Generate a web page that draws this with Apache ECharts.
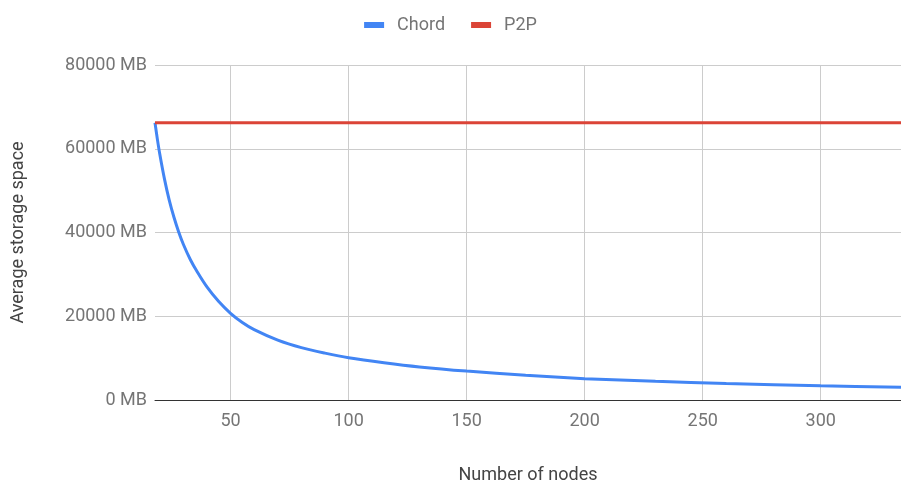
<!DOCTYPE html>
<html>
<head>
<meta charset="utf-8">
<script src="https://cdn.jsdelivr.net/npm/echarts@6/dist/echarts.min.js"></script>
<style>html,body{margin:0;padding:0;background:#fff}#c{width:901px;height:482px}</style>
</head>
<body>
<div id="c"></div>
<script>
var nodes = [18, 19, 20, 22, 24, 26, 28, 30, 33, 36, 40, 45, 50, 55, 60, 70, 80, 90, 100, 115, 130, 150, 175, 200, 230, 260, 300, 334];
var chord = [66200, 62300, 58800, 52800, 47800, 43700, 40200, 37200, 33500, 30500, 27000, 23500, 20700, 18500, 16800, 14300, 12500, 11200, 10100, 8900, 7900, 6900, 5900, 5100, 4450, 3950, 3400, 3050];
var p2pNodes = [18, 334];
var p2p = [66200, 66200];
var yTicks = [0, 20000, 40000, 60000, 80000];

var chart = echarts.init(document.getElementById('c'));
var font = 'Roboto';
chart.setOption({
  animation: false,
  textStyle: { fontFamily: font },
  legend: {
    top: 11, left: 'center', itemWidth: 20, itemHeight: 6, itemGap: 26,
    icon: 'rect',
    textStyle: { color: '#757575', fontSize: 18, fontFamily: font, padding: [0, 0, 0, 8] },
    data: ['Chord', 'P2P']
  },
  grid: { left: 155, right: 0, top: 65, bottom: 82, containLabel: false, outerBoundsMode: 'none' },
  xAxis: {
    type: 'value', min: nodes[0], max: nodes[nodes.length - 1],
    name: 'Number of nodes', nameLocation: 'middle', nameGap: 66,
    nameTextStyle: { color: '#444', fontSize: 18, fontFamily: font },
    axisLine: { show: true, onZero: false, lineStyle: { color: '#333', width: 1 } },
    axisTick: { show: false },
    axisLabel: { color: '#757575', fontSize: 18, fontFamily: font, margin: 12, showMinLabel: false, showMaxLabel: false },
    splitLine: { show: true, showMinLine: false, showMaxLine: false, lineStyle: { color: '#ccc' } }
  },
  yAxis: {
    type: 'value', min: yTicks[0], max: yTicks[yTicks.length - 1], interval: yTicks[1] - yTicks[0],
    name: 'Average storage space', nameLocation: 'middle', nameGap: 128, nameRotate: 90,
    nameTextStyle: { color: '#444', fontSize: 18, fontFamily: font },
    axisLine: { show: false }, axisTick: { show: false },
    axisLabel: { color: '#757575', fontSize: 18, fontFamily: font, margin: 8,
      formatter: function (v) { return String(v) + ' MB'; } },
    splitLine: { show: true, lineStyle: { color: '#ccc' } }
  },
  series: [
    { name: 'Chord', type: 'line', smooth: 0.3, showSymbol: false, symbol: 'none',
      color: '#4285f4', lineStyle: { width: 3, color: '#4285f4' },
      data: nodes.map(function (x, i) { return [x, chord[i]]; }) },
    { name: 'P2P', type: 'line', showSymbol: false, symbol: 'none',
      color: '#db4437', lineStyle: { width: 3, color: '#db4437' },
      data: p2pNodes.map(function (x, i) { return [x, p2p[i]]; }) }
  ]
});
</script>
</body>
</html>
